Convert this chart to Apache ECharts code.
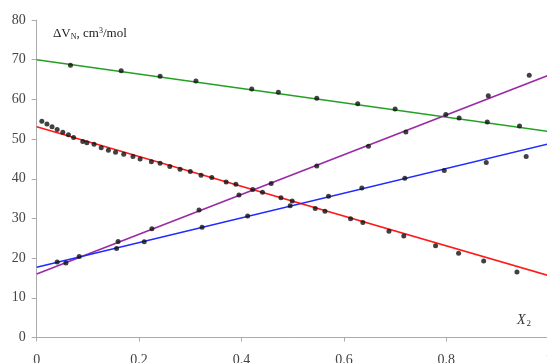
<!DOCTYPE html>
<html>
<head>
<meta charset="utf-8">
<script src="https://cdn.jsdelivr.net/npm/echarts@6/dist/echarts.min.js"></script>
<style>
  html, body { margin: 0; padding: 0; background: #fff; }
  #chart { width: 547px; height: 363px; }
</style>
</head>
<body>
<div id="chart"></div>
<script>
// Measured points (mole fraction X2 vs ΔV_N)
const greenX = [0.066, 0.165, 0.241, 0.311, 0.420, 0.472, 0.547, 0.627, 0.700, 0.799, 0.825, 0.880, 0.943];
const greenY = [68.6, 67.2, 65.8, 64.6, 62.6, 61.8, 60.3, 58.9, 57.6, 56.2, 55.3, 54.3, 53.3];

const purpleX = [0.083, 0.159, 0.225, 0.317, 0.395, 0.458, 0.547, 0.648, 0.721, 0.882, 0.962];
const purpleY = [20.4, 24.2, 27.4, 32.1, 35.9, 38.8, 43.2, 48.2, 51.8, 60.9, 66.1];

const blueX = [0.040, 0.057, 0.156, 0.210, 0.323, 0.412, 0.495, 0.570, 0.635, 0.719, 0.796, 0.878, 0.956];
const blueY = [19.0, 18.8, 22.4, 24.1, 27.8, 30.6, 33.2, 35.6, 37.7, 40.1, 42.1, 44.1, 45.6];

const redX = [0.010, 0.020, 0.030, 0.040, 0.051, 0.062, 0.072, 0.090, 0.098, 0.112, 0.126, 0.140, 0.154,
              0.170, 0.188, 0.202, 0.224, 0.241, 0.260, 0.280, 0.300, 0.321, 0.342, 0.370, 0.389, 0.422,
              0.441, 0.477, 0.499, 0.544, 0.563, 0.613, 0.637, 0.688, 0.717, 0.779, 0.824, 0.873, 0.938];
const redY = [54.5, 53.8, 53.1, 52.4, 51.7, 51.1, 50.4, 49.4, 49.1, 48.7, 47.8, 47.2, 46.7,
              46.2, 45.6, 45.0, 44.3, 43.9, 43.1, 42.4, 41.8, 40.9, 40.3, 39.2, 38.6, 37.3,
              36.6, 35.2, 34.4, 32.5, 31.8, 29.9, 29.0, 26.8, 25.6, 23.1, 21.2, 19.3, 16.5];

// Linear fits evaluated at the ends of the X2 range
const fitX = [0, 1];
const greenFit = [70.0, 51.9];
const purpleFit = [16.0, 66.1];
const blueFit = [17.7, 48.8];
const redFit = [53.1, 15.6];

const xTicks = { min: 0, max: 1, interval: 0.2 };
const yTicks = { min: 0, max: 80, interval: 10 };

const pairs = (xs, ys) => xs.map((x, i) => [x, ys[i]]);

const fitLine = (ys, color) => ({
  type: 'line',
  data: pairs(fitX, ys),
  symbol: 'none',
  silent: true,
  z: 2,
  lineStyle: { color: color, width: 1.6 }
});

const dots = (xs, ys) => ({
  type: 'scatter',
  data: pairs(xs, ys),
  symbol: 'circle',
  symbolSize: 5,
  z: 3,
  itemStyle: { color: '#111' }
});

const serif = "'Liberation Serif', 'DejaVu Serif', serif";
const axisGray = '#ababab';

const chart = echarts.init(document.getElementById('chart'), null, { renderer: 'canvas' });
chart.setOption({
  animation: false,
  backgroundColor: '#fff',
  // plot area runs past the right edge so X2 = 1 sits just outside the canvas
  grid: { left: 36.7, top: 20, width: 512, height: 317.5, outerBoundsMode: 'none', containLabel: false },
  xAxis: {
    type: 'value',
    min: xTicks.min, max: xTicks.max, interval: xTicks.interval,
    axisLine: { show: true, lineStyle: { color: axisGray, width: 1 } },
    axisTick: { show: true, length: 4, lineStyle: { color: axisGray } },
    splitLine: { show: false },
    axisLabel: { margin: 16, fontFamily: serif, fontSize: 14, color: '#444', hideOverlap: false }
  },
  yAxis: {
    type: 'value',
    min: yTicks.min, max: yTicks.max, interval: yTicks.interval,
    axisLine: { show: true, lineStyle: { color: axisGray, width: 1 } },
    axisTick: { show: true, length: 5, lineStyle: { color: axisGray } },
    splitLine: { show: false },
    axisLabel: { margin: 11, fontFamily: serif, fontSize: 14, color: '#444' }
  },
  graphic: [
    {
      type: 'text', left: 53, top: 27,
      style: {
        text: 'ΔV{sub|N}, cm{sup|3}/mol',
        fontFamily: serif, fontSize: 13, fill: '#222',
        rich: {
          sub: { fontFamily: serif, fontSize: 8, fill: '#222', verticalAlign: 'bottom', padding: [6, 0, 0, 0] },
          sup: { fontFamily: serif, fontSize: 8, fill: '#222', verticalAlign: 'top', padding: [0, 0, 6, 0] }
        }
      }
    },
    {
      type: 'text', left: 517, top: 313,
      style: {
        text: '{i|X}{sub|2}',
        rich: {
          i: { fontFamily: serif, fontStyle: 'italic', fontSize: 14, fill: '#333' },
          sub: { fontFamily: serif, fontSize: 9, fill: '#333', verticalAlign: 'bottom', padding: [7, 0, 0, 1] }
        }
      }
    }
  ],
  series: [
    fitLine(greenFit, '#23a023'),
    fitLine(redFit, '#ff1a1a'),
    fitLine(purpleFit, '#9a2aa6'),
    fitLine(blueFit, '#1f2bff'),
    dots(greenX, greenY),
    dots(redX, redY),
    dots(purpleX, purpleY),
    dots(blueX, blueY)
  ]
});
</script>
</body>
</html>
